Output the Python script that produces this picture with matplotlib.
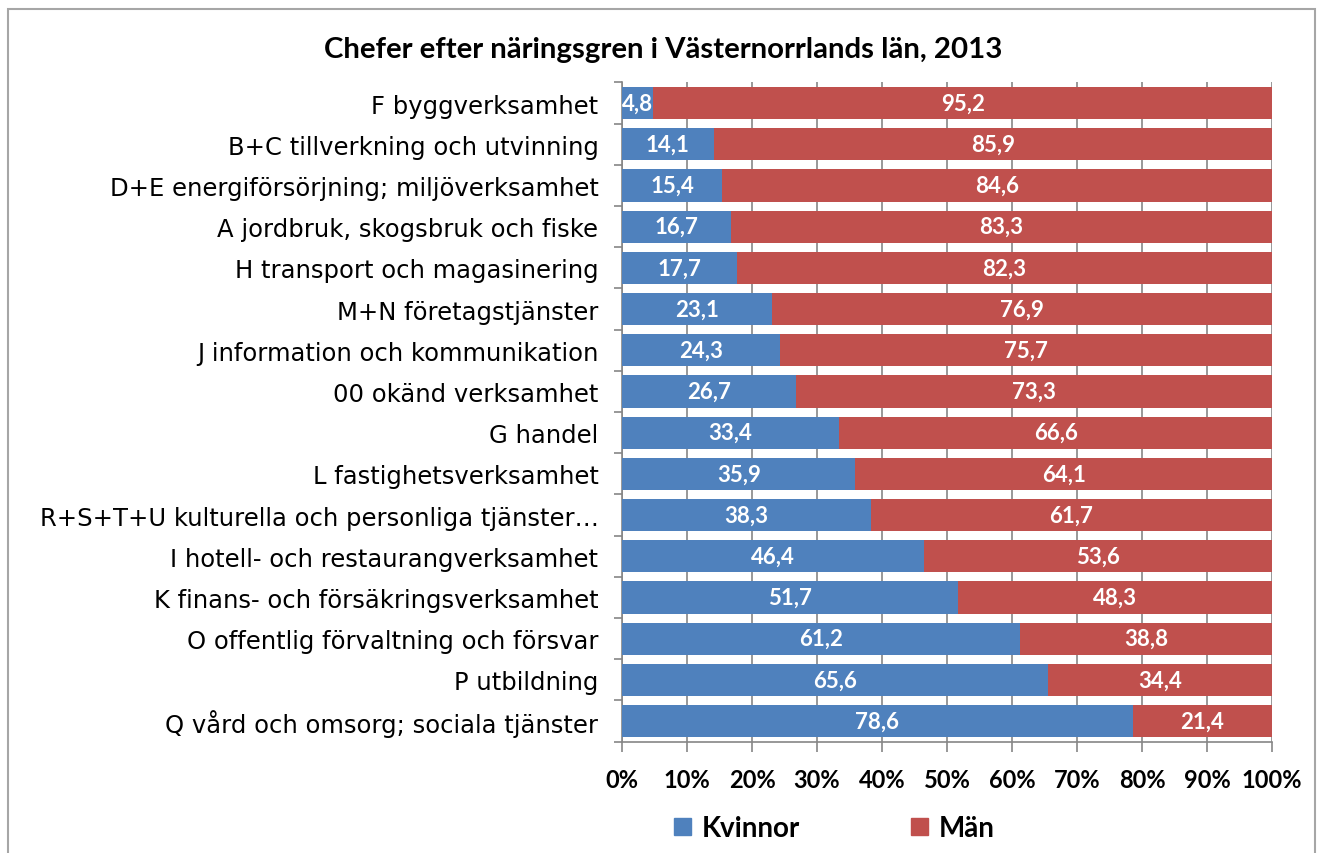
import matplotlib.pyplot as plt
import matplotlib.patches as mpatches
import numpy as np

# data, top to bottom as in the chart
categories = [
    "F byggverksamhet",
    "B+C tillverkning och utvinning",
    "D+E energiförsörjning; miljöverksamhet",
    "A jordbruk, skogsbruk och fiske",
    "H transport och magasinering",
    "M+N företagstjänster",
    "J information och kommunikation",
    "00 okänd verksamhet",
    "G handel",
    "L fastighetsverksamhet",
    "R+S+T+U kulturella och personliga tjänster…",
    "I hotell- och restaurangverksamhet",
    "K finans- och försäkringsverksamhet",
    "O offentlig förvaltning och försvar",
    "P utbildning",
    "Q vård och omsorg; sociala tjänster",
]
kvinnor = [4.8, 14.1, 15.4, 16.7, 17.7, 23.1, 24.3, 26.7, 33.4, 35.9, 38.3, 46.4, 51.7, 61.2, 65.6, 78.6]
man = [95.2, 85.9, 84.6, 83.3, 82.3, 76.9, 75.7, 73.3, 66.6, 64.1, 61.7, 53.6, 48.3, 38.8, 34.4, 21.4]
xticks = [0, 10, 20, 30, 40, 50, 60, 70, 80, 90, 100]

blue = "#4F81BD"
red = "#C0504D"
bold_font = ["Lato", "DejaVu Sans"]

fig = plt.figure(figsize=(13.19, 8.54), dpi=100)
ax = fig.add_axes([0.4716, 0.1304, 0.4928, 0.7719])

y = np.arange(len(categories))
h = 0.78
ax.barh(y, kvinnor, height=h, color=blue, zorder=3)
ax.barh(y, man, left=kvinnor, height=h, color=red, zorder=3)

for i in range(len(categories)):
    ax.text(kvinnor[i] / 2, y[i], f"{kvinnor[i]:.1f}".replace(".", ","),
            ha="center", va="center", color="white", fontsize=16,
            fontweight="bold", family=bold_font, zorder=4)
    ax.text(kvinnor[i] + man[i] / 2, y[i], f"{man[i]:.1f}".replace(".", ","),
            ha="center", va="center", color="white", fontsize=16,
            fontweight="bold", family=bold_font, zorder=4)

ax.set_ylim(len(categories) - 0.5, -0.5)
ax.set_xlim(0, 100)

ax.set_yticks(y)
ax.set_yticklabels(categories, fontsize=17.5, family=["DejaVu Sans"])
ax.set_yticks(np.arange(-0.5, len(categories)), minor=True)
ax.tick_params(axis="y", which="major", length=0, pad=17)
ax.tick_params(axis="y", which="minor", length=6, color="#868686", width=1.2)

ax.set_xticks(xticks)
ax.set_xticklabels([f"{t}%" for t in xticks], fontsize=17, fontweight="bold", family=bold_font)
ax.tick_params(axis="x", length=7, color="#868686", width=1.2, pad=12)

ax.grid(axis="x", color="#868686", linewidth=1.2, zorder=0)
ax.set_axisbelow(True)
for s in ["top", "right"]:
    ax.spines[s].set_visible(False)
for s in ["left", "bottom"]:
    ax.spines[s].set_color("#868686")
    ax.spines[s].set_linewidth(1.2)

fig.text(0.503, 0.941, "Chefer efter näringsgren i Västernorrlands län, 2013",
         ha="center", va="center", fontsize=21.2, fontweight="bold", family=bold_font)

handles = [mpatches.Patch(color=blue, label="Kvinnor"),
           mpatches.Patch(color=red, label="Män")]
fig.legend(handles=handles, loc="center", bbox_to_anchor=(0.6326, 0.029), ncol=2,
           frameon=False, prop={"family": bold_font, "weight": "bold", "size": 20},
           handlelength=0.6, handleheight=0.6, handletextpad=0.4, columnspacing=4.0)

border = mpatches.Rectangle((0.006, -0.02), 0.991, 1.008, transform=fig.transFigure,
                            fill=False, edgecolor="#A6A6A6", linewidth=1.5)
fig.patches.append(border)

fig.savefig("out.png", dpi=100)
